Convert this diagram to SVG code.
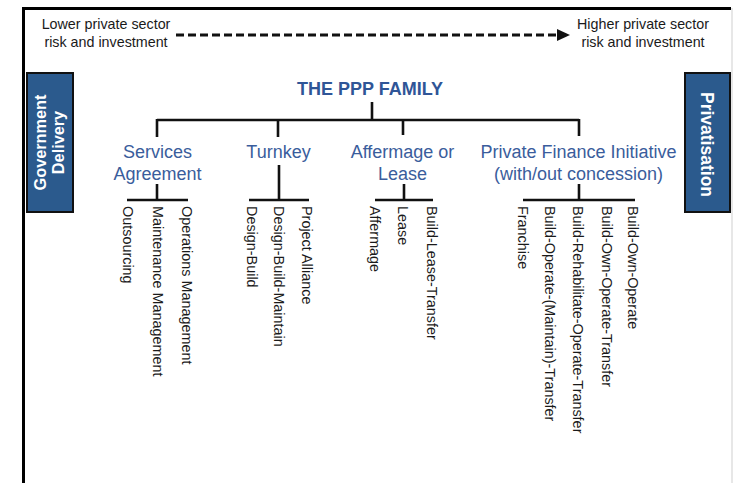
<svg xmlns="http://www.w3.org/2000/svg" width="733" height="483" viewBox="0 0 733 483">
<style>
.t{font-family:"Liberation Sans",Arial,sans-serif;fill:#1a1a1a}
.top{font-size:14.3px;text-anchor:middle}
.title{font-size:18px;font-weight:bold;fill:#2f5597;text-anchor:middle}
.cat{font-size:18px;fill:#3a5d9c;text-anchor:middle}
.leaf{font-size:14.4px}
.side{font-size:16.3px;font-weight:bold;fill:#fff;text-anchor:middle}
.box{fill:#2b5a8d;stroke:#111;stroke-width:2}
.ln{stroke:#111;stroke-width:2.6;fill:none}
</style>
<rect width="733" height="483" fill="#fff"/>
<path d="M23.5,483 V8.5 H731" fill="none" stroke="#000" stroke-width="3"/>
<line x1="732" y1="8" x2="732" y2="483" stroke="#cfcfcf" stroke-width="1"/>

<g id="scale">
<text class="t top" x="106" y="29">Lower private sector</text>
<text class="t top" x="106" y="47">risk and investment</text>
<text class="t top" x="643" y="29">Higher private sector</text>
<text class="t top" x="643" y="47">risk and investment</text>
<line x1="176" y1="35" x2="556" y2="35" stroke="#111" stroke-width="3" stroke-dasharray="8,4"/>
<polygon points="557,29 570,35 557,41" fill="#111"/>
</g>

<g id="government">
<rect class="box" x="27" y="73" width="46" height="139"/>
<text class="t side" transform="translate(46,142.5) rotate(-90)">Government</text>
<text class="t side" transform="translate(64,142.5) rotate(-90)">Delivery</text>
</g>
<g id="privatisation">
<rect class="box" x="685" y="73" width="45" height="139"/>
<text class="t side" style="font-size:17.5px" transform="translate(701,144.5) rotate(90)">Privatisation</text>
</g>

<g id="connectors">
<path class="ln" d="M372,102 V120 M157,120 H579 M157,119 V137 M278,120 V137 M403,120 V135 M579,119 V136"/>
<path class="ln" d="M157,184 V200 M127,200 H188"/>
<path class="ln" d="M279,165 V200 M249,200 H309"/>
<path class="ln" d="M404,184 V200 M375,200 H433"/>
<path class="ln" d="M579,184 V200 M523,200 H635"/>
</g>

<g id="title"><text class="t title" x="370" y="95">THE PPP FAMILY</text></g>

<g id="services">
<text class="t cat" x="157.5" y="158">Services</text>
<text class="t cat" x="157.5" y="180">Agreement</text>
</g>
<g id="turnkey"><text class="t cat" x="278.5" y="158">Turnkey</text></g>
<g id="affermage">
<text class="t cat" x="402.5" y="158">Affermage or</text>
<text class="t cat" x="402.5" y="180">Lease</text>
</g>
<g id="pfi">
<text class="t cat" x="578.5" y="158">Private Finance Initiative</text>
<text class="t cat" x="578.5" y="180">(with/out concession)</text>
</g>

<g id="leaf-outsourcing"><text class="t leaf" transform="translate(122.5,206) rotate(90)">Outsourcing</text></g>
<g id="leaf-maintenance"><text class="t leaf" transform="translate(152.5,206) rotate(90)">Maintenance Management</text></g>
<g id="leaf-operations"><text class="t leaf" transform="translate(181.5,206) rotate(90)">Operations Management</text></g>
<g id="leaf-db"><text class="t leaf" transform="translate(247,206) rotate(90)">Design-Build</text></g>
<g id="leaf-dbm"><text class="t leaf" transform="translate(274,206) rotate(90)">Design-Build-Maintain</text></g>
<g id="leaf-pa"><text class="t leaf" transform="translate(302,206) rotate(90)">Project Alliance</text></g>
<g id="leaf-affermage"><text class="t leaf" transform="translate(370,206) rotate(90)">Affermage</text></g>
<g id="leaf-lease"><text class="t leaf" transform="translate(398,206) rotate(90)">Lease</text></g>
<g id="leaf-blt"><text class="t leaf" transform="translate(427,206) rotate(90)">Build-Lease-Transfer</text></g>
<g id="leaf-franchise"><text class="t leaf" transform="translate(518,206) rotate(90)">Franchise</text></g>
<g id="leaf-bomt"><text class="t leaf" transform="translate(545,206) rotate(90)">Build-Operate-(Maintain)-Transfer</text></g>
<g id="leaf-brot"><text class="t leaf" transform="translate(573,206) rotate(90)">Build-Rehabilitate-Operate-Transfer</text></g>
<g id="leaf-boot"><text class="t leaf" transform="translate(602,206) rotate(90)">Build-Own-Operate-Transfer</text></g>
<g id="leaf-boo"><text class="t leaf" transform="translate(628,206) rotate(90)">Build-Own-Operate</text></g>
</svg>
